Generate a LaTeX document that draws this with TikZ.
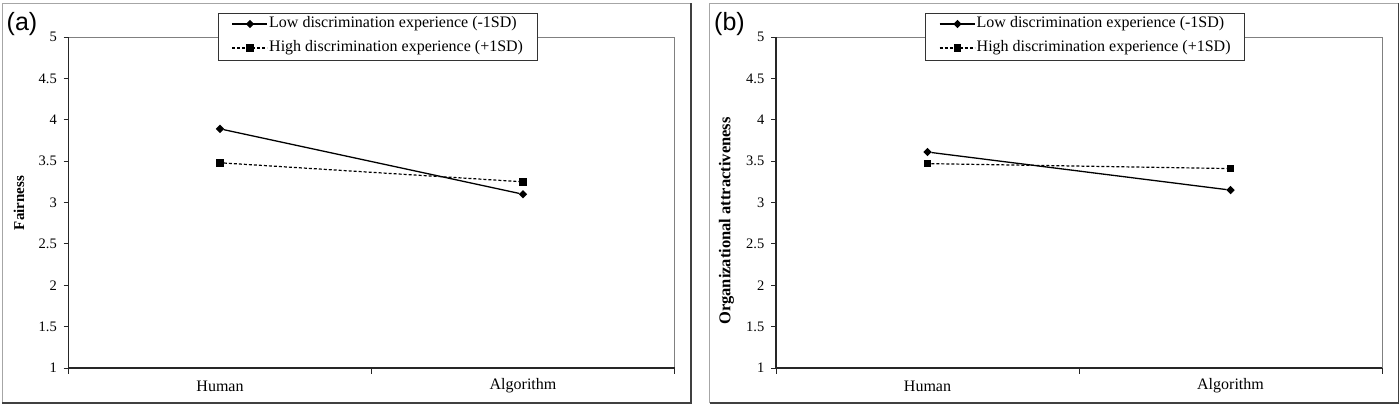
\documentclass[tikz,border=0pt]{standalone}
\usepackage{fontspec}
\setmainfont{Liberation Serif}
\newfontfamily\arialfont{Liberation Sans}
\usetikzlibrary{shapes.geometric}
\tikzset{
 panelborder/.style={draw=black!35, line width=1pt},
 panelborderdark/.style={draw=black!75, line width=1.2pt},
 plotframe/.style={draw=black!50, line width=1pt},
 axisline/.style={draw=black!85, line width=1.2pt},
 tickline/.style={draw=black!85, line width=0.9pt},
 ticklab/.style={anchor=east, inner sep=0pt, font=\fontsize{14.5}{16}\selectfont},
 catlab/.style={inner sep=0pt, font=\fontsize{16}{18}\selectfont},
 ytitle/.style={rotate=90, inner sep=0pt},
 dmark/.style={diamond, fill=black, inner sep=0pt, minimum size=8.5pt},
 smark/.style={rectangle, fill=black, inner sep=0pt, minimum size=7.5pt},
 lowline/.style={draw=black, line width=1.3pt},
 highline/.style={draw=black, line width=1.2pt, dash pattern=on 3pt off 2pt},
 legbox/.style={draw=black!80, fill=white, line width=0.8pt},
 legtext/.style={anchor=west, inner sep=0pt, font=\fontsize{16}{18}\selectfont},
 panlab/.style={inner sep=0pt, font=\arialfont\fontsize{25}{28}\selectfont},
}
\newcommand\yv[1]{368-(#1-1)*82.75}
% #1 prefix, #2 lowH, #3 lowA, #4 highH, #5 highA, #6 title, #7 title size, #8 title y, #9 panel label
\newcommand\drawpanel[9]{%
 \draw[panelborder] (2,403) -- (2,3) -- (691,3);
 \draw[panelborderdark] (691,3) -- (691,403) -- (2,403);
 \draw[plotframe] (68.5,37) -- (674.5,37) -- (674.5,368);
 \draw[axisline] (68.5,37) -- (68.5,368) -- (674.5,368);
 \foreach \tv [count=\ti] in {1,1.5,2,2.5,3,3.5,4,4.5,5} {
   \draw[tickline] (63.5,{\yv{\tv}}) -- (68.5,{\yv{\tv}});
   \node[ticklab] (#1tick\ti) at (57,{\yv{\tv}}) {\tv};
 }
 \foreach \tx in {68.5,371.5,674.5} {
   \draw[tickline] (\tx,368) -- (\tx,373.5);
 }
 \node[catlab] (#1hum) at (220,386) {Human};
 \node[catlab] (#1alg) at (523,386) {Algorithm};
 \node[ytitle, font=\bfseries\fontsize{#7}{#7}\selectfont] (#1title) at (19,#8) {#6};
 \node[panlab] (#1lab) at (22,24) {#9};
 % data
 \node[dmark] (#1LH) at (220,{\yv{#2}}) {};
 \node[dmark] (#1LA) at (523,{\yv{#3}}) {};
 \node[smark] (#1HH) at (220,{\yv{#4}}) {};
 \node[smark] (#1HA) at (523,{\yv{#5}}) {};
 \draw[lowline] (#1LH) -- (#1LA);
 \draw[highline] (#1HH) -- (#1HA);
 % legend
 \draw[legbox] (218,13) rectangle (537,60);
 \coordinate (#1l1a) at (232,24);
 \coordinate (#1l1b) at (267,24);
 \coordinate (#1l2a) at (232,48);
 \coordinate (#1l2b) at (267,48);
 \draw[lowline] (#1l1a) -- (#1l1b);
 \draw[highline] (#1l2a) -- (#1l2b);
 \node[dmark] (#1lm1) at (250,24) {};
 \node[smark] (#1lm2) at (250,48) {};
 \node[legtext] (#1leg1) at (269,24) {Low discrimination experience (-1SD)};
 \node[legtext] (#1leg2) at (269,48) {High discrimination experience (+1SD)};
}
\begin{document}
\begin{tikzpicture}[x=1pt,y=-1pt]
 \useasboundingbox[fill=white] (0,0) rectangle (1400,405);
 \begin{scope}
  \drawpanel{a}{3.89}{3.10}{3.48}{3.25}{Fairness}{15}{203}{(a)}
 \end{scope}
 \begin{scope}[xshift=707.5pt]
  \drawpanel{b}{3.61}{3.15}{3.47}{3.41}{Organizational attractiveness}{16.5}{221}{(b)}
 \end{scope}
\end{tikzpicture}
\end{document}
